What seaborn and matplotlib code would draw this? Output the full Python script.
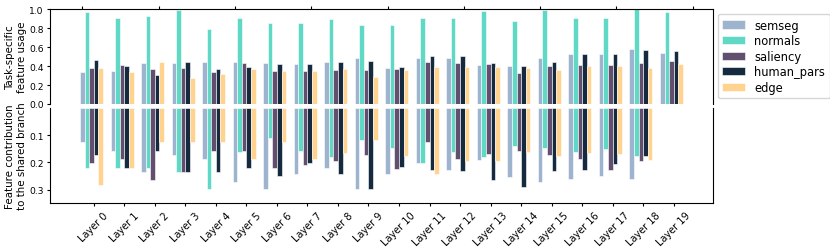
import numpy as np
import pandas as pd
import seaborn as sns
import matplotlib
matplotlib.use("Agg")
import matplotlib.pyplot as plt

layers = np.arange(20)
layer_labels = [f"Layer {i}" for i in layers]
tasks = ["semseg", "normals", "saliency", "human_pars", "edge"]
colors = ["#9db3ce", "#5fd8c5", "#624e6e", "#15293f", "#ffd38e"]

# task-specific feature usage (top panel)
usage_semseg = [0.334, 0.352, 0.430, 0.430, 0.444, 0.444, 0.430, 0.426, 0.444, 0.489,
                0.380, 0.482, 0.482, 0.412, 0.401, 0.482, 0.528, 0.528, 0.577, 0.542]
usage_normals = [0.975, 0.912, 0.930, 0.989, 0.789, 0.905, 0.852, 0.852, 0.898, 0.835,
                 0.835, 0.905, 0.905, 0.982, 0.877, 0.993, 0.908, 0.908, 1.000, 0.975]
usage_saliency = [0.380, 0.412, 0.366, 0.380, 0.334, 0.430, 0.349, 0.349, 0.359, 0.359,
                  0.373, 0.440, 0.437, 0.419, 0.331, 0.401, 0.412, 0.412, 0.433, 0.451]
usage_human = [0.461, 0.398, 0.303, 0.444, 0.366, 0.391, 0.419, 0.419, 0.444, 0.454,
               0.391, 0.507, 0.507, 0.433, 0.405, 0.447, 0.528, 0.528, 0.574, 0.556]
usage_edge = [0.380, 0.334, 0.444, 0.271, 0.317, 0.373, 0.349, 0.349, 0.373, 0.285,
              0.359, 0.391, 0.391, 0.391, 0.384, 0.363, 0.398, 0.398, 0.380, 0.426]

# feature contribution to the shared branch (bottom panel)
contrib_semseg = [0.127, 0.157, 0.234, 0.172, 0.189, 0.273, 0.296, 0.243, 0.219, 0.296,
                  0.243, 0.204, 0.227, 0.191, 0.254, 0.270, 0.261, 0.249, 0.262, 0.0]
contrib_normals = [0.219, 0.219, 0.219, 0.234, 0.296, 0.163, 0.111, 0.157, 0.181, 0.118,
                   0.146, 0.204, 0.161, 0.181, 0.141, 0.149, 0.161, 0.151, 0.178, 0.0]
contrib_saliency = [0.204, 0.189, 0.264, 0.234, 0.157, 0.157, 0.219, 0.211, 0.196, 0.173,
                    0.223, 0.127, 0.189, 0.168, 0.157, 0.173, 0.188, 0.228, 0.196, 0.0]
contrib_human = [0.172, 0.219, 0.157, 0.234, 0.234, 0.219, 0.250, 0.204, 0.243, 0.296,
                 0.216, 0.227, 0.232, 0.264, 0.289, 0.232, 0.227, 0.206, 0.177, 0.0]
contrib_edge = [0.281, 0.219, 0.127, 0.127, 0.127, 0.189, 0.127, 0.189, 0.165, 0.118,
                0.177, 0.243, 0.196, 0.196, 0.161, 0.177, 0.165, 0.168, 0.193, 0.0]

usage = [usage_semseg, usage_normals, usage_saliency, usage_human, usage_edge]
contrib = [contrib_semseg, contrib_normals, contrib_saliency, contrib_human, contrib_edge]

rows = []
for t, task in enumerate(tasks):
    for i in layers:
        rows.append({"x": i + 0.3, "task": task,
                     "usage": usage[t][i], "contrib": contrib[t][i]})
df = pd.DataFrame(rows)

plt.rcParams["font.family"] = ["DejaVu Sans"]
plt.rcParams["axes.linewidth"] = 0.8
plt.rcParams["xtick.major.width"] = 0.8
plt.rcParams["ytick.major.width"] = 0.8

fig = plt.figure(figsize=(8.3, 2.51), dpi=100)
ax1 = fig.add_axes([0.0602, 0.5817, 0.7988, 0.3773])
ax2 = fig.add_axes([0.0602, 0.1857, 0.7988, 0.3813])

bar_kw = dict(hue="task", hue_order=tasks, palette=colors, native_scale=True,
              width=0.75, errorbar=None, saturation=1, edgecolor="white", linewidth=0.4)
sns.barplot(data=df, x="x", y="usage", ax=ax1, **bar_kw)
sns.barplot(data=df, x="x", y="contrib", ax=ax2, legend=False, **bar_kw)

xlim = (-1.0625, 20.6625)

# top panel
ax1.set_xlim(xlim)
ax1.set_ylim(0, 1.0)
ax1.set_yticks([0.0, 0.2, 0.4, 0.6, 0.8, 1.0])
ax1.xaxis.set_major_locator(matplotlib.ticker.MultipleLocator(2.5))
ax1.xaxis.tick_top()
ax1.tick_params(labeltop=False, length=2.5, pad=2, labelsize=6.6)
ax1.spines["bottom"].set_visible(False)
ax1.set_xlabel("")
ax1.set_ylabel("Task-specific\nfeature usage", fontsize=7.4, labelpad=1.5)

handles, labels = ax1.get_legend_handles_labels()
ax1.legend(handles, labels, loc="upper left", bbox_to_anchor=(1.0, 1.0),
           fontsize=8.3, borderaxespad=0.4, labelspacing=0.22)

# bottom panel
ax2.set_xlim(xlim)
ax2.set_ylim(0.35, 0)
ax2.set_yticks([0.1, 0.2, 0.3])
ax2.set_xticks(layers + 0.375)
ax2.set_xticklabels(layer_labels, rotation=45)
ax2.tick_params(axis="y", length=2.5, pad=2, labelsize=6.6)
ax2.tick_params(axis="x", length=2.5, pad=2, labelsize=7.0)
ax2.spines["top"].set_visible(False)
ax2.set_xlabel("")
ax2.set_ylabel("Feature contribution\nto the shared branch", fontsize=7.4, labelpad=1.5)

fig.savefig("out.png", dpi=100)
